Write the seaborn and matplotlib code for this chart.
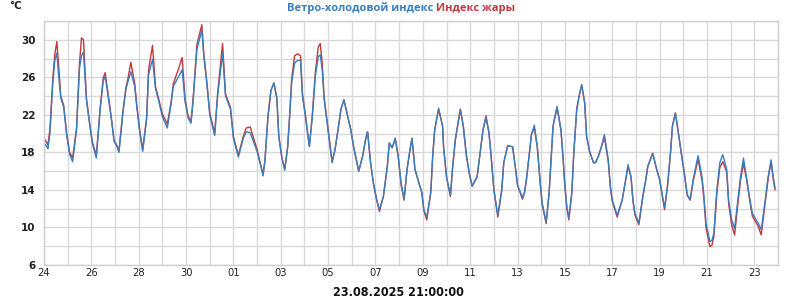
import matplotlib
matplotlib.use("Agg")
import matplotlib.pyplot as plt
import seaborn as sns
import pandas as pd

# ---- data (hours since 24.07.2025 00:00) ----
hours = [0, 3, 4, 6, 9, 11, 13, 15, 17, 20, 23, 26, 29,
         33, 36, 38, 40, 43, 46, 49, 53,
         57, 60, 62, 65, 68, 71, 74, 76,
         80, 83, 85, 88, 92, 94, 97, 100,
         104, 106, 110, 113, 116, 120, 125,
         129, 131, 136, 140, 143, 146, 149,
         151, 155, 160, 162, 165, 168, 172, 173,
         176, 181, 184, 189, 192, 196, 197,
         202, 205, 209, 216, 221, 222,
         224, 227, 230, 233, 236, 238, 241, 244,
         247, 249, 251, 254, 257, 260, 262, 265, 267, 269,
         272, 275, 278, 280, 282, 284, 287, 290, 292,
         295, 298, 301, 304, 308, 311, 314, 319,
         323, 326, 328, 331, 334, 337, 340,
         344, 348, 350, 353, 356, 359, 362, 365,
         368, 371, 373, 376, 379, 383, 385, 388,
         392, 394, 396, 400, 404, 405, 408, 410, 412,
         414, 417, 422, 425, 428, 431, 434, 439,
         442, 445, 448, 451, 453, 456, 460,
         464, 466, 470, 475, 478, 480, 485, 487,
         489, 492, 494, 497, 500, 503, 505, 509,
         512, 514, 516, 520, 524, 526, 528, 530, 532,
         535, 537, 540, 543, 545, 548, 550, 553, 557,
         559, 562, 565, 568, 572, 574, 576, 581,
         586, 589, 592, 595, 597, 599, 603,
         607, 610, 612, 617, 621, 624, 627, 629,
         632, 635, 637, 640, 643, 646, 649, 652, 655,
         658, 663, 667, 669, 671, 675,
         677, 679, 682, 685, 688, 692, 694, 697, 700,
         703, 706, 709, 712, 715, 718, 724, 727,
         731, 734, 737, 739, 741]

wind_chill = [19.0, 18.6, 18.4, 20.0, 25.5, 27.8, 28.6, 26.0, 23.8, 22.8, 19.8, 17.8, 17.0,
              20.4, 27.0, 28.3, 28.7, 23.6, 21.2, 19.0, 17.4,
              22.6, 25.6, 26.1, 24.0, 21.8, 19.2, 18.6, 18.0,
              22.2, 24.7, 25.5, 26.6, 25.0, 22.9, 20.2, 18.1,
              21.5, 26.3, 27.9, 24.8, 23.6, 21.8, 20.6,
              23.3, 25.0, 26.0, 26.8, 23.4, 21.7, 21.1,
              23.3, 29.0, 31.0, 28.2, 25.4, 22.0, 20.2, 19.8,
              24.0, 28.6, 24.0, 22.6, 19.5, 17.9, 17.5,
              19.5, 20.2, 20.1, 18.1, 16.0, 15.5,
              17.2, 21.8, 24.6, 25.4, 23.8, 19.7, 17.5, 16.1,
              18.6, 21.8, 25.4, 27.5, 27.8, 27.8, 24.0, 21.8, 20.1, 18.6,
              21.8, 26.1, 28.2, 28.4, 26.8, 23.6, 21.1, 18.6, 16.9,
              18.3, 20.4, 22.6, 23.6, 21.8, 20.4, 18.5, 16.0,
              17.6, 19.4, 20.2, 16.9, 14.7, 13.1, 11.9,
              13.3, 16.5, 19.0, 18.5, 19.5, 17.6, 14.7, 13.1,
              16.2, 18.3, 19.5, 16.2, 15.1, 13.7, 11.9, 11.1,
              13.7, 17.6, 20.4, 22.7, 20.8, 18.6, 15.4, 14.4, 13.5,
              16.2, 19.4, 22.6, 20.8, 17.9, 15.8, 14.4, 15.4,
              17.9, 20.4, 21.7, 20.1, 17.9, 14.0, 11.3,
              14.0, 16.9, 18.7, 18.6, 16.2, 14.5, 13.2, 13.7,
              15.1, 17.9, 19.9, 20.9, 18.6, 14.7, 12.6, 10.6,
              13.7, 17.2, 20.8, 22.9, 20.4, 17.6, 14.4, 12.2, 11.0,
              13.7, 17.9, 22.6, 24.3, 25.2, 23.3, 19.7, 18.1, 16.9,
              16.9, 17.6, 18.6, 19.9, 17.2, 14.4, 12.9, 11.3,
              12.9, 14.7, 16.7, 15.4, 12.9, 11.5, 10.5,
              13.3, 15.1, 16.5, 17.9, 16.2, 15.1, 13.3, 12.1,
              14.4, 17.9, 20.8, 22.2, 20.1, 17.9, 15.8, 13.5, 13.0,
              15.1, 17.65, 15.4, 13.3, 10.45, 8.5,
              8.6, 9.4, 14.0, 16.9, 17.75, 16.2, 12.9, 10.8, 9.9,
              12.6, 15.4, 17.4, 15.4, 13.3, 11.5, 10.45, 9.75,
              12.9, 15.4, 17.2, 15.5, 14.2]

heat_index = [19.5, 19.0, 18.8, 20.5, 26.0, 28.5, 29.8, 27.0, 24.0, 23.0, 20.0, 18.0, 17.4,
              20.6, 27.5, 30.2, 30.0, 23.8, 21.3, 19.1, 17.7,
              22.8, 25.9, 26.5, 24.2, 21.9, 19.3, 18.7, 18.2,
              22.4, 24.9, 25.8, 27.6, 25.3, 23.1, 20.4, 18.3,
              21.7, 26.8, 29.4, 25.0, 23.8, 22.1, 21.0,
              23.5, 25.3, 26.8, 28.1, 23.7, 21.9, 21.3,
              23.5, 29.5, 31.6, 28.5, 25.6, 22.2, 20.4, 20.0,
              24.3, 29.6, 24.2, 22.8, 19.7, 18.1, 17.7,
              19.7, 20.6, 20.7, 18.3, 16.1, 15.6,
              17.2, 21.8, 24.6, 25.4, 23.8, 19.7, 17.5, 16.2,
              18.6, 22.0, 25.8, 28.3, 28.5, 28.3, 24.2, 22.0, 20.3, 18.7,
              22.0, 26.5, 29.2, 29.6, 27.5, 23.8, 21.3, 18.8, 17.0,
              18.3, 20.4, 22.6, 23.6, 21.8, 20.4, 18.5, 16.0,
              17.6, 19.4, 20.2, 16.9, 14.6, 13.0, 11.7,
              13.3, 16.5, 19.0, 18.5, 19.5, 17.6, 14.5, 12.9,
              16.2, 18.3, 19.5, 16.2, 15.1, 13.7, 11.8, 10.8,
              13.7, 17.6, 20.4, 22.6, 20.8, 18.6, 15.4, 14.3, 13.3,
              16.2, 19.4, 22.6, 20.8, 17.7, 15.8, 14.4, 15.4,
              17.9, 20.4, 21.9, 20.1, 17.9, 14.0, 11.1,
              14.0, 16.9, 18.7, 18.6, 16.2, 14.5, 13.0, 13.7,
              15.1, 17.9, 19.9, 20.6, 18.6, 14.7, 12.4, 10.4,
              13.7, 17.2, 20.8, 22.8, 20.4, 17.6, 14.4, 12.0, 10.8,
              13.7, 17.9, 22.6, 24.3, 25.2, 23.3, 19.7, 18.1, 16.9,
              16.9, 17.6, 18.6, 19.6, 17.0, 14.4, 12.8, 11.1,
              12.9, 14.7, 16.5, 15.4, 12.8, 11.3, 10.3,
              13.3, 15.1, 16.5, 17.9, 16.2, 15.1, 13.2, 11.9,
              14.4, 17.9, 20.8, 22.2, 20.1, 17.9, 15.8, 13.4, 12.9,
              14.9, 17.3, 15.0, 12.9, 10.0, 7.95,
              8.1, 9.0, 13.6, 16.4, 17.0, 15.9, 12.5, 10.3, 9.2,
              12.2, 15.0, 16.8, 15.2, 13.1, 11.2, 10.1, 9.2,
              12.6, 15.2, 17.0, 15.3, 14.0]

x_tick_labels = ["24", "26", "28", "30", "01", "03", "05", "07",
                 "09", "11", "13", "15", "17", "19", "21", "23"]
y_tick_values = [6, 10, 14, 18, 22, 26, 30]
title_blue = "Ветро-холодовой индекс"
title_red = "Индекс жары"
unit_label = "°C"
date_label = "23.08.2025 21:00:00"

# ---- plot ----
sns.set_theme(style="white")
plt.rcParams["font.family"] = ["DejaVu Sans"]

BLUE = "#3a7fbd"
RED = "#c0393d"
GRID = "#d9d9d9"

start = pd.Timestamp("2025-07-24 00:00")
df = pd.DataFrame({
    "time": start + pd.to_timedelta(hours, unit="h"),
    "heat": heat_index,
    "chill": wind_chill,
})

fig = plt.figure(figsize=(8, 3), dpi=100)
ax = fig.add_axes([44 / 800, 1 - 265 / 300, (778 - 44) / 800, (265 - 21) / 300])

sns.lineplot(data=df, x="time", y="heat", color=RED, lw=1.0, ax=ax)
sns.lineplot(data=df, x="time", y="chill", color=BLUE, lw=1.0, ax=ax)

ax.set_xlim(start, start + pd.Timedelta(days=31))
ax.set_ylim(6, 32)

major_x = [start + pd.Timedelta(days=2 * i) for i in range(len(x_tick_labels))]
minor_x = [start + pd.Timedelta(days=i) for i in range(32)]
ax.set_xticks(major_x)
ax.set_xticklabels(x_tick_labels, family="DejaVu Sans", fontstretch="condensed",
                   fontsize=8, color="#222222")
ax.set_xticks(minor_x, minor=True)
ax.set_yticks(y_tick_values)
ax.set_yticklabels([str(v) for v in y_tick_values], fontsize=7.5, fontweight="bold",
                   color="#222222")
ax.set_yticks([8, 12, 16, 20, 24, 28, 32], minor=True)

ax.grid(True, which="both", color=GRID, lw=1.0)
ax.set_axisbelow(True)
ax.tick_params(which="both", length=0)
ax.tick_params(axis="x", pad=2)
ax.tick_params(axis="y", pad=6)
for s in ax.spines.values():
    s.set_color("#cfcfcf")
    s.set_linewidth(1.0)
ax.set_xlabel("")
ax.set_ylabel("")

fig.text(433 / 800, 1 - 8 / 300, title_blue, color=BLUE, fontsize=8, fontweight="bold",
         ha="right", va="center", family=["Open Sans", "DejaVu Sans"])
fig.text(436 / 800, 1 - 8 / 300, title_red, color=RED, fontsize=8, fontweight="bold",
         ha="left", va="center", family=["Open Sans", "DejaVu Sans"])
fig.text(9 / 800, 1 - 6 / 300, unit_label, color="#222222", fontsize=7.5, fontweight="bold",
         ha="left", va="center")
fig.text(398 / 800, 1 - 292 / 300, date_label, color="#111111", fontsize=9,
         fontweight="bold", fontstretch="condensed",
         ha="center", va="center", family="DejaVu Sans")

fig.savefig("out.png", dpi=100)
